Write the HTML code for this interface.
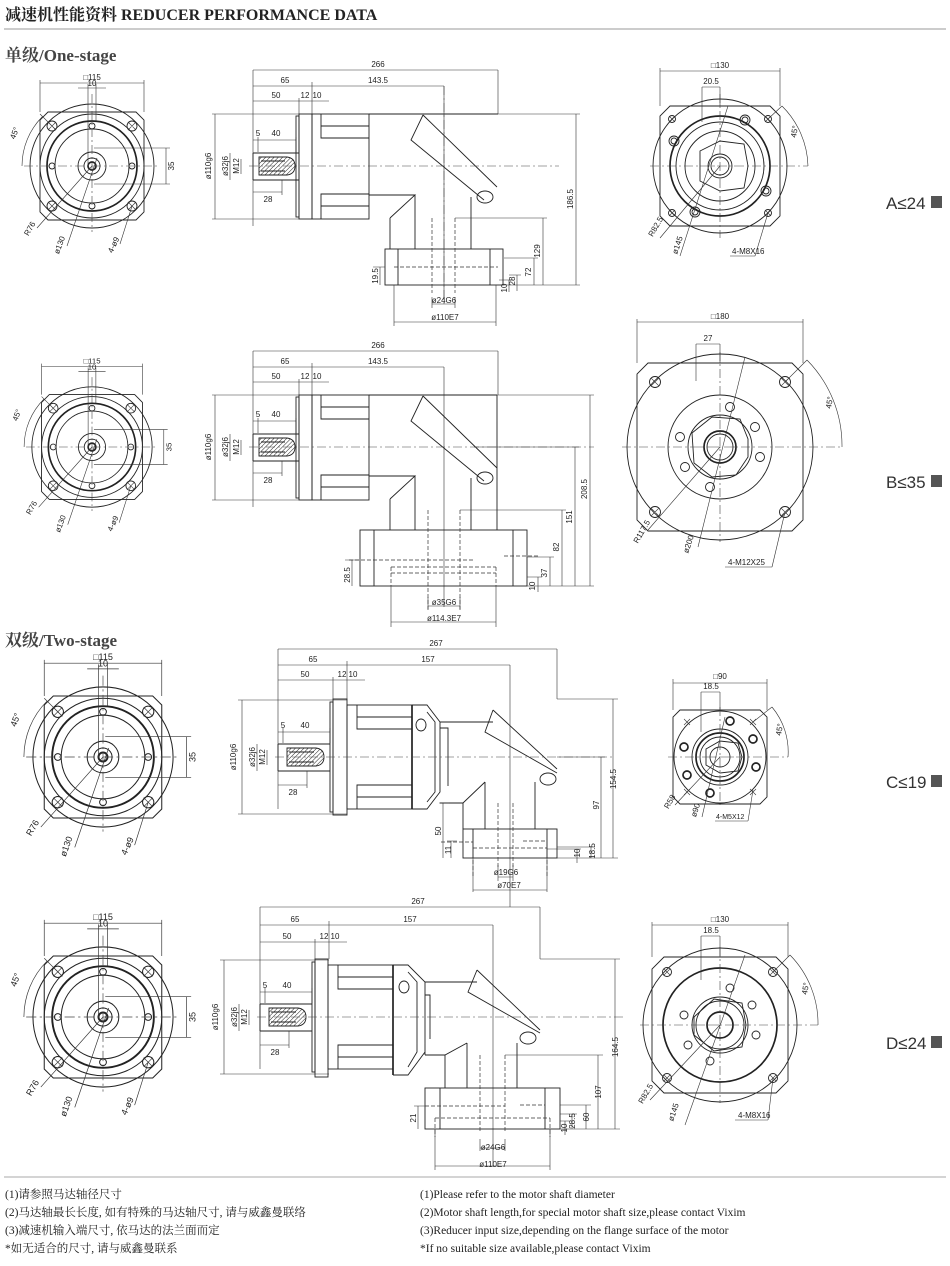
<!DOCTYPE html>
<html><head><meta charset="utf-8"><style>
html,body{margin:0;padding:0;background:#fff;width:950px;height:1266px;overflow:hidden}
svg{display:block}
.s{fill:none;stroke:#222;stroke-width:0.9}
.t{fill:none;stroke:#333;stroke-width:0.6}
.k{fill:none;stroke:#222;stroke-width:1.7}
.c{fill:none;stroke:#444;stroke-width:0.6;stroke-dasharray:9 3 2 3}
.d{fill:none;stroke:#333;stroke-width:0.7;stroke-dasharray:4 2}
text{font-family:"Liberation Sans Narrow","Liberation Sans",sans-serif;font-size:8px;fill:#222}
.lb{font-family:"Liberation Sans",sans-serif;font-size:17px;fill:#333}
.ft{font-family:"Liberation Serif","Noto Serif CJK SC",serif;font-size:11.5px;fill:#222}
</style></head><body>
<svg width="950" height="1266" viewBox="0 0 950 1266" xmlns="http://www.w3.org/2000/svg">
<defs>
<pattern id="h" width="3" height="3" patternUnits="userSpaceOnUse" patternTransform="rotate(45)"><line x1="0" y1="0" x2="0" y2="3" stroke="#222" stroke-width="1"/></pattern>
</defs>
<text x="5" y="20" style="font-family:'Liberation Serif','Noto Serif CJK SC',serif;font-size:16px;font-weight:bold;fill:#222">减速机性能资料 REDUCER PERFORMANCE DATA</text>
<line x1="4" y1="29" x2="946" y2="29" stroke="#bbb" stroke-width="1.5"/>
<text x="5" y="61" style="font-family:'Liberation Serif','Noto Serif CJK SC',serif;font-size:17px;font-weight:bold;fill:#444">单级/One-stage</text>
<text x="5" y="646" style="font-family:'Liberation Serif','Noto Serif CJK SC',serif;font-size:17px;font-weight:bold;fill:#444">双级/Two-stage</text>

<!-- FRONT VIEWS -->
<g id="fa" transform="translate(92,166)">
<path class="s" d="M-44,-54H44L52,-46V46L44,54H-44L-52,46V-46Z"/>
<circle class="s" r="62"/><circle class="s" r="52"/><circle class="k" r="45"/><circle class="s" r="37"/><circle class="s" r="14"/><circle class="s" r="8"/><circle class="k" r="4"/>
<circle class="s" cx="0" cy="-40" r="3"/><circle class="s" cx="0" cy="40" r="3"/><circle class="s" cx="-40" cy="0" r="3"/><circle class="s" cx="40" cy="0" r="3"/>
<circle class="s" cx="-40" cy="-40" r="5"/><circle class="s" cx="40" cy="-40" r="5"/><circle class="s" cx="-40" cy="40" r="5"/><circle class="s" cx="40" cy="40" r="5"/>
<path class="t" d="M-44,-44l8,8M-36,-44l-8,8M36,-44l8,8M44,-44l-8,8M-44,36l8,8M-36,36l-8,8M36,36l8,8M44,36l-8,8"/>
<path class="c" d="M-68,0H68M0,-72V66"/>
<path class="t" d="M-52,-54V-86M52,-54V-86M-52,-83H52M-4,-82V0M4,-82V-45M-14,-78H14M2,-18H78M2,18H78M74,-18V18"/>
<text x="0" y="-86" text-anchor="middle">□115</text><text x="0" y="-80" text-anchor="middle">10</text>
<text transform="translate(82,0) rotate(-90)" text-anchor="middle">35</text>
<path class="t" d="M-70,0A70,70 0 0 1 -49.5,-49.5M-36,-36L-52,-52M0,0L-55,62M5,-8L-25,80M40,40L28,78"/>
<text transform="translate(-75,-32) rotate(-70)" text-anchor="middle">45°</text>
<text transform="translate(-60,64) rotate(-60)" text-anchor="middle">R76</text>
<text transform="translate(-30,80) rotate(-70)" text-anchor="middle">ø130</text>
<text transform="translate(24,80) rotate(-65)" text-anchor="middle">4-ø9</text>
</g>
<g transform="translate(92,447) scale(0.97)">
<path class="s" d="M-44,-54H44L52,-46V46L44,54H-44L-52,46V-46Z"/>
<circle class="s" r="62"/><circle class="s" r="52"/><circle class="k" r="45"/><circle class="s" r="37"/><circle class="s" r="14"/><circle class="s" r="8"/><circle class="k" r="4"/>
<circle class="s" cx="0" cy="-40" r="3"/><circle class="s" cx="0" cy="40" r="3"/><circle class="s" cx="-40" cy="0" r="3"/><circle class="s" cx="40" cy="0" r="3"/>
<circle class="s" cx="-40" cy="-40" r="5"/><circle class="s" cx="40" cy="-40" r="5"/><circle class="s" cx="-40" cy="40" r="5"/><circle class="s" cx="40" cy="40" r="5"/>
<path class="t" d="M-44,-44l8,8M-36,-44l-8,8M36,-44l8,8M44,-44l-8,8M-44,36l8,8M-36,36l-8,8M36,36l8,8M44,36l-8,8"/>
<path class="c" d="M-68,0H68M0,-72V66"/>
<path class="t" d="M-52,-54V-86M52,-54V-86M-52,-83H52M-4,-82V0M4,-82V-45M-14,-78H14M2,-18H78M2,18H78M74,-18V18"/>
<text x="0" y="-86" text-anchor="middle">□115</text><text x="0" y="-80" text-anchor="middle">10</text>
<text transform="translate(82,0) rotate(-90)" text-anchor="middle">35</text>
<path class="t" d="M-70,0A70,70 0 0 1 -49.5,-49.5M-36,-36L-52,-52M0,0L-55,62M5,-8L-25,80M40,40L28,78"/>
<text transform="translate(-75,-32) rotate(-70)" text-anchor="middle">45°</text>
<text transform="translate(-60,64) rotate(-60)" text-anchor="middle">R76</text>
<text transform="translate(-30,80) rotate(-70)" text-anchor="middle">ø130</text>
<text transform="translate(24,80) rotate(-65)" text-anchor="middle">4-ø9</text>
</g>
<g transform="translate(103,757) scale(1.13)">
<path class="s" d="M-44,-54H44L52,-46V46L44,54H-44L-52,46V-46Z"/>
<circle class="s" r="62"/><circle class="s" r="52"/><circle class="k" r="45"/><circle class="s" r="37"/><circle class="s" r="14"/><circle class="s" r="8"/><circle class="k" r="4"/>
<circle class="s" cx="0" cy="-40" r="3"/><circle class="s" cx="0" cy="40" r="3"/><circle class="s" cx="-40" cy="0" r="3"/><circle class="s" cx="40" cy="0" r="3"/>
<circle class="s" cx="-40" cy="-40" r="5"/><circle class="s" cx="40" cy="-40" r="5"/><circle class="s" cx="-40" cy="40" r="5"/><circle class="s" cx="40" cy="40" r="5"/>
<path class="t" d="M-44,-44l8,8M-36,-44l-8,8M36,-44l8,8M44,-44l-8,8M-44,36l8,8M-36,36l-8,8M36,36l8,8M44,36l-8,8"/>
<path class="c" d="M-68,0H68M0,-72V66"/>
<path class="t" d="M-52,-54V-86M52,-54V-86M-52,-83H52M-4,-82V0M4,-82V-45M-14,-78H14M2,-18H78M2,18H78M74,-18V18"/>
<text x="0" y="-86" text-anchor="middle">□115</text><text x="0" y="-80" text-anchor="middle">10</text>
<text transform="translate(82,0) rotate(-90)" text-anchor="middle">35</text>
<path class="t" d="M-70,0A70,70 0 0 1 -49.5,-49.5M-36,-36L-52,-52M0,0L-55,62M5,-8L-25,80M40,40L28,78"/>
<text transform="translate(-75,-32) rotate(-70)" text-anchor="middle">45°</text>
<text transform="translate(-60,64) rotate(-60)" text-anchor="middle">R76</text>
<text transform="translate(-30,80) rotate(-70)" text-anchor="middle">ø130</text>
<text transform="translate(24,80) rotate(-65)" text-anchor="middle">4-ø9</text>
</g>
<g transform="translate(103,1017) scale(1.13)">
<path class="s" d="M-44,-54H44L52,-46V46L44,54H-44L-52,46V-46Z"/>
<circle class="s" r="62"/><circle class="s" r="52"/><circle class="k" r="45"/><circle class="s" r="37"/><circle class="s" r="14"/><circle class="s" r="8"/><circle class="k" r="4"/>
<circle class="s" cx="0" cy="-40" r="3"/><circle class="s" cx="0" cy="40" r="3"/><circle class="s" cx="-40" cy="0" r="3"/><circle class="s" cx="40" cy="0" r="3"/>
<circle class="s" cx="-40" cy="-40" r="5"/><circle class="s" cx="40" cy="-40" r="5"/><circle class="s" cx="-40" cy="40" r="5"/><circle class="s" cx="40" cy="40" r="5"/>
<path class="t" d="M-44,-44l8,8M-36,-44l-8,8M36,-44l8,8M44,-44l-8,8M-44,36l8,8M-36,36l-8,8M36,36l8,8M44,36l-8,8"/>
<path class="c" d="M-68,0H68M0,-72V66"/>
<path class="t" d="M-52,-54V-86M52,-54V-86M-52,-83H52M-4,-82V0M4,-82V-45M-14,-78H14M2,-18H78M2,18H78M74,-18V18"/>
<text x="0" y="-86" text-anchor="middle">□115</text><text x="0" y="-80" text-anchor="middle">10</text>
<text transform="translate(82,0) rotate(-90)" text-anchor="middle">35</text>
<path class="t" d="M-70,0A70,70 0 0 1 -49.5,-49.5M-36,-36L-52,-52M0,0L-55,62M5,-8L-25,80M40,40L28,78"/>
<text transform="translate(-75,-32) rotate(-70)" text-anchor="middle">45°</text>
<text transform="translate(-60,64) rotate(-60)" text-anchor="middle">R76</text>
<text transform="translate(-30,80) rotate(-70)" text-anchor="middle">ø130</text>
<text transform="translate(24,80) rotate(-65)" text-anchor="middle">4-ø9</text>
</g>

<!-- SIDE A (origin flange x=299, center y=166) -->
<g transform="translate(299,166)">
<path class="t" d="M-46,-96H199M-46,-96V60M199,-96V-52M-46,-80H145M13,-84V-52M145,-80V134M-46,-65H0M0,-68V-52M-87,-52H0M-87,53H0M-84,-52V53M-46,-26H-3M-41,-29V-14M-3,-29V-14M-69,-13V14M-58,-7V8M-46,26H-17M-17,14V29M0,-65H30"/>
<text x="79" y="-99" text-anchor="middle">266</text><text x="-14" y="-83" text-anchor="middle">65</text><text x="79" y="-83" text-anchor="middle">143.5</text>
<text x="-23" y="-68" text-anchor="middle">50</text><text x="6" y="-68" text-anchor="middle">12</text><text x="18" y="-68" text-anchor="middle">10</text>
<text x="-41" y="-30" text-anchor="middle">5</text><text x="-23" y="-30" text-anchor="middle">40</text><text x="-31" y="36" text-anchor="middle">28</text>
<text transform="translate(-88,0) rotate(-90)" text-anchor="middle">ø110g6</text>
<text transform="translate(-71,0) rotate(-90)" text-anchor="middle">ø32j6</text>
<text transform="translate(-60,0) rotate(-90)" text-anchor="middle">M12</text>
<path class="s" d="M-46,-13H0M-46,14H0M-46,-13V14"/>
<path class="s" fill="url(#h)" style="fill:url(#h)" d="M-40,-9H-12Q-4,-8 -4,0Q-4,8 -12,9H-40Z"/>
<path class="s" d="M-38,-5H-14M-38,5H-14" style="fill:#fff"/>
<rect class="s" x="-3" y="-50" width="3" height="101"/>
<rect class="s" x="0" y="-52" width="13" height="105"/>
<rect class="s" x="13" y="-52" width="57" height="105"/>
<path class="s" d="M22,-52V-28H70M22,-40H70M22,53V28H70M22,40H70"/>
<path class="s" d="M70,-52H199M124,-51L112,-26L185,34M124,-51L198,21M70,29H116L91,52M91,52V83M116,29V83M172,31V83"/>
<ellipse class="s" cx="186" cy="31" rx="8" ry="6"/>
<rect class="s" x="86" y="83" width="118" height="36"/>
<path class="s" d="M99,83V119M191,83V119"/>
<path class="d" d="M95,101H199M133,52V127M156,52V127"/>
<path class="c" d="M-50,0H260M145,-80V140"/>
<path class="t" d="M199,-52H281M204,119H281M277,-52V119M156,52H248M244,52V119M205,92H239M235,92V119M210,109H222M218,109V125M200,114H214M210,114V126M81,101V119M74,101H86M133,131V142M156,131V142M133,138H156M95,119V160M197,119V160M95,156H197"/>
<text transform="translate(274,33) rotate(-90)" text-anchor="middle">186.5</text>
<text transform="translate(241,85) rotate(-90)" text-anchor="middle">129</text>
<text transform="translate(232,106) rotate(-90)" text-anchor="middle">72</text>
<text transform="translate(216,115) rotate(-90)" text-anchor="middle">28</text>
<text transform="translate(208,122) rotate(-90)" text-anchor="middle">10</text>
<text transform="translate(79,110) rotate(-90)" text-anchor="middle">19.5</text>
<text x="145" y="137" text-anchor="middle">ø24G6</text><text x="146" y="154" text-anchor="middle">ø110E7</text>
</g>

<!-- SIDE B -->
<g transform="translate(299,447)">
<path class="t" d="M-46,-96H199M-46,-96V60M199,-96V-52M-46,-80H145M13,-84V-52M145,-80V160M-46,-65H0M0,-68V-52M-87,-52H0M-87,53H0M-84,-52V53M-46,-26H-3M-41,-29V-14M-3,-29V-14M-69,-13V14M-58,-7V8M-46,26H-17M-17,14V29M0,-65H30"/>
<text x="79" y="-99" text-anchor="middle">266</text><text x="-14" y="-83" text-anchor="middle">65</text><text x="79" y="-83" text-anchor="middle">143.5</text>
<text x="-23" y="-68" text-anchor="middle">50</text><text x="6" y="-68" text-anchor="middle">12</text><text x="18" y="-68" text-anchor="middle">10</text>
<text x="-41" y="-30" text-anchor="middle">5</text><text x="-23" y="-30" text-anchor="middle">40</text><text x="-31" y="36" text-anchor="middle">28</text>
<text transform="translate(-88,0) rotate(-90)" text-anchor="middle">ø110g6</text>
<text transform="translate(-71,0) rotate(-90)" text-anchor="middle">ø32j6</text>
<text transform="translate(-60,0) rotate(-90)" text-anchor="middle">M12</text>
<path class="s" d="M-46,-13H0M-46,14H0M-46,-13V14"/>
<path class="s" style="fill:url(#h)" d="M-40,-9H-12Q-4,-8 -4,0Q-4,8 -12,9H-40Z"/>
<path class="s" d="M-38,-5H-14M-38,5H-14"/>
<rect class="s" x="-3" y="-50" width="3" height="101"/>
<rect class="s" x="0" y="-52" width="13" height="105"/>
<rect class="s" x="13" y="-52" width="57" height="105"/>
<path class="s" d="M22,-52V-28H70M22,-40H70M22,53V28H70M22,40H70"/>
<path class="s" d="M70,-52H198M124,-51L112,-26L185,34M124,-51L198,21M70,29H116L91,52M91,52V83M116,29V83M172,31V83M198,-52V83"/>
<ellipse class="s" cx="186" cy="31" rx="8" ry="6"/>
<rect class="s" x="61" y="83" width="167" height="56"/>
<path class="s" d="M75,83V139M214,83V139"/>
<path class="d" d="M92,120H197M92,126H197M92,120V139M197,120V139M129,63V163M161,63V163M50,113H175M205,109H240"/>
<path class="c" d="M-50,0H295"/>
<path class="t" d="M198,-52H295M228,139H295M291,-52V139M175,0H280M276,0V139M161,63H267M263,63V139M228,110H255M251,110V139M228,130H243M239,130V145M53,113V139M46,113H60M129,150V162M161,150V162M129,159H161M92,139V180M197,139V180M92,175H197"/>
<text transform="translate(288,42) rotate(-90)" text-anchor="middle">208.5</text>
<text transform="translate(273,70) rotate(-90)" text-anchor="middle">151</text>
<text transform="translate(260,100) rotate(-90)" text-anchor="middle">82</text>
<text transform="translate(248,126) rotate(-90)" text-anchor="middle">37</text>
<text transform="translate(236,139) rotate(-90)" text-anchor="middle">10</text>
<text transform="translate(51,128) rotate(-90)" text-anchor="middle">28.5</text>
<text x="145" y="158" text-anchor="middle">ø35G6</text><text x="145" y="174" text-anchor="middle">ø114.3E7</text>
</g>

<!-- SIDE C (origin flange x=333, center 757) -->
<g transform="translate(333,757)">
<path class="t" d="M-55,-108H224M-55,-108V52M224,-108V-58M-55,-92H177M14,-96V-58M177,-92V150M-55,-77H0M0,-80V-58M-95,-57H14M-95,57H14M-91,-57V57M-55,-25H-3M-50,-29V-14M-3,-29V-14M-76,-13V14M-66,-7V8M-55,28H-26M-26,14V31M0,-77H32"/>
<text x="103" y="-111" text-anchor="middle">267</text><text x="-20" y="-95" text-anchor="middle">65</text><text x="95" y="-95" text-anchor="middle">157</text>
<text x="-28" y="-80" text-anchor="middle">50</text><text x="9" y="-80" text-anchor="middle">12</text><text x="20" y="-80" text-anchor="middle">10</text>
<text x="-50" y="-29" text-anchor="middle">5</text><text x="-28" y="-29" text-anchor="middle">40</text><text x="-40" y="38" text-anchor="middle">28</text>
<text transform="translate(-97,0) rotate(-90)" text-anchor="middle">ø110g6</text>
<text transform="translate(-78,0) rotate(-90)" text-anchor="middle">ø32j6</text>
<text transform="translate(-68,0) rotate(-90)" text-anchor="middle">M12</text>
<path class="s" d="M-55,-13H-3M-55,14H-3M-55,-13V14"/>
<path class="s" style="fill:url(#h)" d="M-46,-9H-17Q-9,-8 -9,0Q-9,8 -17,9H-46Z"/>
<path class="s" d="M-44,-5H-19M-44,5H-19"/>
<rect class="s" x="-3" y="-55" width="3" height="110"/>
<rect class="s" x="0" y="-58" width="14" height="116"/>
<rect class="s" x="14" y="-52" width="65" height="104"/>
<path class="s" d="M24,-52V-28H79M24,-40H79M24,52V28H79M24,40H79"/>
<path class="k" d="M79,-52V52"/>
<path class="s" d="M79,-52H94L107,-35V35L94,52H79M94,-45L102,-35V35L94,45M107,-35H160M107,-29H115V29M107,46H130L152,25M160,-47L152,-25L224,16M160,-47L224,12M130,46V72M152,25V72M202,25V72"/>
<ellipse class="s" cx="88" cy="-32" rx="5" ry="6"/>
<ellipse class="s" cx="215" cy="22" rx="8" ry="6"/>
<rect class="s" x="130" y="72" width="94" height="29"/>
<path class="s" d="M140,72V101M214,72V101"/>
<path class="d" d="M140,91H214M140,91V120M214,91V120M165,46V110M180,46V110M108,85H140M190,84H212"/>
<path class="c" d="M-58,0H280"/>
<path class="t" d="M224,-58H285M224,101H285M280,-58V101M224,0H272M268,0V101M224,90H262M258,90V101M214,92H248M244,92V106M110,46V101M106,46H116M118,84V101M114,84H124M165,108V124M180,108V124M165,120H180M140,101V135M214,101V135M140,133H214"/>
<text transform="translate(283,22) rotate(-90)" text-anchor="middle">154.5</text>
<text transform="translate(266,48) rotate(-90)" text-anchor="middle">97</text>
<text transform="translate(262,94) rotate(-90)" text-anchor="middle">18.5</text>
<text transform="translate(247,96) rotate(-90)" text-anchor="middle">10</text>
<text transform="translate(108,74) rotate(-90)" text-anchor="middle">50</text>
<text transform="translate(118,93) rotate(-90)" text-anchor="middle">11</text>
<text x="173" y="118" text-anchor="middle">ø19G6</text><text x="176" y="131" text-anchor="middle">ø70E7</text>
</g>

<!-- SIDE D (origin x=315, center 1017) -->
<g transform="translate(315,1017)">
<path class="t" d="M-55,-110H225M-55,-110V52M225,-110V-58M-55,-92H178M14,-96V-58M178,-92V150M-55,-75H0M0,-78V-58M-95,-57H14M-95,57H14M-91,-57V57M-55,-25H-3M-50,-29V-14M-3,-29V-14M-76,-13V14M-66,-7V8M-55,28H-26M-26,14V31M0,-75H32"/>
<text x="103" y="-113" text-anchor="middle">267</text><text x="-20" y="-95" text-anchor="middle">65</text><text x="95" y="-95" text-anchor="middle">157</text>
<text x="-28" y="-78" text-anchor="middle">50</text><text x="9" y="-78" text-anchor="middle">12</text><text x="20" y="-78" text-anchor="middle">10</text>
<text x="-50" y="-29" text-anchor="middle">5</text><text x="-28" y="-29" text-anchor="middle">40</text><text x="-40" y="38" text-anchor="middle">28</text>
<text transform="translate(-97,0) rotate(-90)" text-anchor="middle">ø110g6</text>
<text transform="translate(-78,0) rotate(-90)" text-anchor="middle">ø32j6</text>
<text transform="translate(-68,0) rotate(-90)" text-anchor="middle">M12</text>
<path class="s" d="M-55,-13H-3M-55,14H-3M-55,-13V14"/>
<path class="s" style="fill:url(#h)" d="M-46,-9H-17Q-9,-8 -9,0Q-9,8 -17,9H-46Z"/>
<path class="s" d="M-44,-5H-19M-44,5H-19"/>
<rect class="s" x="-3" y="-55" width="3" height="110"/>
<rect class="s" x="0" y="-58" width="13" height="118"/>
<rect class="s" x="13" y="-52" width="65" height="104"/>
<path class="s" d="M23,-52V-28H78M23,-40H78M23,52V28H78M23,40H78"/>
<path class="k" d="M78,-52V58"/>
<path class="s" d="M78,-52H93L110,-35V35L93,58H78M93,-45L102,-35V35L93,50M110,-35V38M110,-35H162M110,-22H115V22M110,38H130L152,26M162,-47L153,-25L225,16M162,-47L225,13M130,38V71M152,26V71M202,26V71"/>
<ellipse class="s" cx="89" cy="-30" rx="5" ry="6"/>
<ellipse class="s" cx="213" cy="21" rx="8" ry="6"/>
<rect class="s" x="110" y="71" width="135" height="41"/>
<path class="s" d="M125,71V112M230,71V112"/>
<path class="d" d="M120,101H235M120,101V120M235,101V120M165,38V115M190,38V115M110,89H190M205,88H230"/>
<path class="c" d="M-58,0H310"/>
<path class="t" d="M225,-58H305M245,112H305M300,-58V112M190,38H288M283,38V112M245,88H276M271,88V112M245,97H262M257,97V112M245,104H254M250,104V118M103,89V112M99,89H110M165,122V134M190,122V134M165,131H190M120,112V153M235,112V153M120,149H235"/>
<text transform="translate(303,30) rotate(-90)" text-anchor="middle">164.5</text>
<text transform="translate(286,75) rotate(-90)" text-anchor="middle">107</text>
<text transform="translate(274,100) rotate(-90)" text-anchor="middle">60</text>
<text transform="translate(260,104) rotate(-90)" text-anchor="middle">28.5</text>
<text transform="translate(252,111) rotate(-90)" text-anchor="middle">10</text>
<text transform="translate(101,101) rotate(-90)" text-anchor="middle">21</text>
<text x="178" y="133" text-anchor="middle">ø24G6</text><text x="178" y="150" text-anchor="middle">ø110E7</text>
</g>

<!-- RIGHT VIEWS -->
<g transform="translate(720,166)">
<path class="s" d="M-50,-60H50L60,-50V50L50,60H-50L-60,50V-50Z"/>
<circle class="s" r="67"/><circle class="k" r="50"/><circle class="s" r="44"/><circle class="s" r="35"/>
<path class="s" d="M-20,-15L0,-25L24,-22L28,0L24,22L0,25L-20,15Z"/><circle class="s" r="12"/><circle class="s" r="9"/>
<circle class="s" cx="25" cy="-46" r="5"/><circle class="s" cx="25" cy="-46" r="3"/>
<circle class="s" cx="-46" cy="-25" r="5"/><circle class="s" cx="-46" cy="-25" r="3"/>
<circle class="s" cx="46" cy="25" r="5"/><circle class="s" cx="46" cy="25" r="3"/>
<circle class="s" cx="-25" cy="46" r="5"/><circle class="s" cx="-25" cy="46" r="3"/>
<circle class="s" cx="-48" cy="-47" r="3.5"/><circle class="s" cx="48" cy="-47" r="3.5"/><circle class="s" cx="-48" cy="47" r="3.5"/><circle class="s" cx="48" cy="47" r="3.5"/>
<path class="t" d="M-51,-50l6,6M-45,-50l-6,6M45,-50l6,6M51,-50l-6,6M-51,44l6,6M-45,44l-6,6M45,44l6,6M51,44l-6,6"/>
<path class="c" d="M-70,0H88M0,-72V72M-20,0H20"/>
<path class="t" d="M-60,-60V-98M60,-60V-62M60,-62V-98M-60,-95H60M-18,-44V-79M0,-79V-60M-18,-79H0M48,-47L62,-60M62,-60A88,88 0 0 1 88,0M0,0L-60,72M8,-60L-40,90M48,47L35,90M10,90H35"/>
<text x="0" y="-98" text-anchor="middle">□130</text><text x="-9" y="-82" text-anchor="middle">20.5</text>
<text transform="translate(77,-34) rotate(-80)" text-anchor="middle">45°</text>
<text transform="translate(-62,62) rotate(-60)" text-anchor="middle">R82.5</text>
<text transform="translate(-40,80) rotate(-72)" text-anchor="middle">ø145</text>
<text x="12" y="88">4-M8X16</text>
</g>
<g transform="translate(720,447)">
<path class="s" d="M-72,-84H72L83,-73V73L72,84H-72L-83,73V-73Z"/>
<circle class="s" r="93"/><circle class="s" r="52"/><circle class="s" r="32"/>
<path class="s" d="M-28,-14L-8,-30L20,-28L28,-8L28,10L16,28L-8,30L-26,16Z"/><circle class="k" r="16"/><circle class="s" r="13"/>
<circle class="s" cx="10" cy="-40" r="4.5"/><circle class="s" cx="35" cy="-20" r="4.5"/><circle class="s" cx="40" cy="10" r="4.5"/><circle class="s" cx="-10" cy="40" r="4.5"/><circle class="s" cx="-35" cy="20" r="4.5"/><circle class="s" cx="-40" cy="-10" r="4.5"/>
<circle class="s" cx="-65" cy="-65" r="5.5"/><circle class="s" cx="65" cy="-65" r="5.5"/><circle class="s" cx="-65" cy="65" r="5.5"/><circle class="s" cx="65" cy="65" r="5.5"/>
<path class="t" d="M-69,-69l8,8M-61,-69l-8,8M61,-69l8,8M69,-69l-8,8M-69,61l8,8M-61,61l-8,8M61,61l8,8M69,61l-8,8"/>
<path class="c" d="M-98,0H122M0,-95V95M-25,0H25"/>
<path class="t" d="M-83,-84V-128M83,-84V-128M-83,-125H83M-24,-66V-103M0,-103V-84M-24,-103H0M65,-65L87,-87M87,-87A122,122 0 0 1 122,0M0,0L-72,83M25,-90L-22,100M65,65L52,120M5,120H52"/>
<text x="0" y="-128" text-anchor="middle">□180</text><text x="-12" y="-106" text-anchor="middle">27</text>
<text transform="translate(112,-44) rotate(-80)" text-anchor="middle">45°</text>
<text transform="translate(-76,86) rotate(-60)" text-anchor="middle">R117.5</text>
<text transform="translate(-29,98) rotate(-72)" text-anchor="middle">ø200</text>
<text x="8" y="118">4-M12X25</text>
</g>
<g transform="translate(720,757)">
<path class="s" d="M-40,-47H40L47,-40V40L40,47H-40L-47,40V-40Z"/>
<circle class="s" r="46"/><circle class="s" r="28"/><circle class="k" r="24"/><circle class="s" r="20"/>
<path class="s" d="M-14,-8L0,-16L18,-14L22,0L18,14L0,16L-14,8Z"/><circle class="s" r="10"/>
<circle class="k" cx="10" cy="-36" r="4"/><circle class="k" cx="33" cy="-18" r="4"/><circle class="k" cx="36" cy="10" r="4"/><circle class="k" cx="-10" cy="36" r="4"/><circle class="k" cx="-33" cy="18" r="4"/><circle class="k" cx="-36" cy="-10" r="4"/>
<path class="t" d="M-36,-38l6,6M-30,-38l-6,6M30,-38l6,6M36,-38l-6,6M-36,32l6,6M-30,32l-6,6M30,32l6,6M36,32l-6,6"/>
<path class="c" d="M-52,0H68M0,-50V48M-12,0H18"/>
<path class="t" d="M-47,-47V-78M47,-47V-78M-47,-74H47M-19,-25V-65M0,-65V-47M-19,-65H0M33,-35L52,-50M52,-50A70,70 0 0 1 68,0M0,0L-45,48M5,-40L-18,60M33,33L28,64M-5,64H28"/>
<text x="0" y="-78" text-anchor="middle">□90</text><text x="-9" y="-68" text-anchor="middle">18.5</text>
<text transform="translate(62,-27) rotate(-80)" text-anchor="middle">45°</text>
<text transform="translate(-48,46) rotate(-60)" text-anchor="middle">R58</text>
<text transform="translate(-22,54) rotate(-72)" text-anchor="middle">ø90</text>
<text x="-4" y="62" style="font-size:7px">4-M5X12</text>
</g>
<g transform="translate(720,1025)">
<path class="s" d="M-56,-68H56L68,-56V56L56,68H-56L-68,56V-56Z"/>
<circle class="s" r="77"/><circle class="k" r="57"/><circle class="s" r="28"/><circle class="s" r="24"/>
<path class="s" d="M-26,-8L-6,-26L22,-22L26,0L22,22L-6,26L-26,10Z"/><circle class="k" r="13"/>
<circle class="s" cx="10" cy="-37" r="4"/><circle class="s" cx="32" cy="-20" r="4"/><circle class="s" cx="36" cy="10" r="4"/><circle class="s" cx="-10" cy="36" r="4"/><circle class="s" cx="-32" cy="20" r="4"/><circle class="s" cx="-36" cy="-10" r="4"/>
<circle class="s" cx="-53" cy="-53" r="4.5"/><circle class="s" cx="53" cy="-53" r="4.5"/><circle class="s" cx="-53" cy="53" r="4.5"/><circle class="s" cx="53" cy="53" r="4.5"/>
<path class="t" d="M-56,-56l6,6M-50,-56l-6,6M50,-56l6,6M56,-56l-6,6M-56,50l6,6M-50,50l-6,6M50,50l6,6M56,50l-6,6"/>
<path class="c" d="M-80,0H98M0,-78V78M-24,0H18"/>
<path class="t" d="M-68,-68V-103M68,-68V-103M-68,-100H68M-19,-45V-89M0,-89V-68M-19,-89H0M53,-53L70,-70M70,-70A98,98 0 0 1 98,0M0,0L-70,75M25,-70L-35,100M53,53L48,95M15,95H48"/>
<text x="0" y="-103" text-anchor="middle">□130</text><text x="-9" y="-92" text-anchor="middle">18.5</text>
<text transform="translate(88,-36) rotate(-80)" text-anchor="middle">45°</text>
<text transform="translate(-72,70) rotate(-60)" text-anchor="middle">R82.5</text>
<text transform="translate(-44,88) rotate(-72)" text-anchor="middle">ø145</text>
<text x="18" y="93">4-M8X16</text>
</g>

<text class="lb" x="886" y="209">A≤24</text><rect x="931" y="196" width="11" height="12" fill="#555"/>
<text class="lb" x="886" y="488">B≤35</text><rect x="931" y="475" width="11" height="12" fill="#555"/>
<text class="lb" x="886" y="788">C≤19</text><rect x="931" y="775" width="11" height="12" fill="#555"/>
<text class="lb" x="886" y="1049">D≤24</text><rect x="931" y="1036" width="11" height="12" fill="#555"/>

<line x1="4" y1="1177" x2="946" y2="1177" stroke="#bbb" stroke-width="1.2"/>
<text class="ft" x="5" y="1198">(1)请参照马达轴径尺寸</text>
<text class="ft" x="5" y="1216">(2)马达轴最长长度, 如有特殊的马达轴尺寸, 请与威鑫曼联络</text>
<text class="ft" x="5" y="1234">(3)减速机输入端尺寸, 依马达的法兰面而定</text>
<text class="ft" x="5" y="1252">*如无适合的尺寸, 请与威鑫曼联系</text>
<text class="ft" x="420" y="1198">(1)Please refer to the motor shaft diameter</text>
<text class="ft" x="420" y="1216">(2)Motor shaft length,for special motor shaft size,please contact Vixim</text>
<text class="ft" x="420" y="1234">(3)Reducer input size,depending on the flange surface of the motor</text>
<text class="ft" x="420" y="1252">*If no suitable size available,please contact Vixim</text>
</svg>
</body></html>
